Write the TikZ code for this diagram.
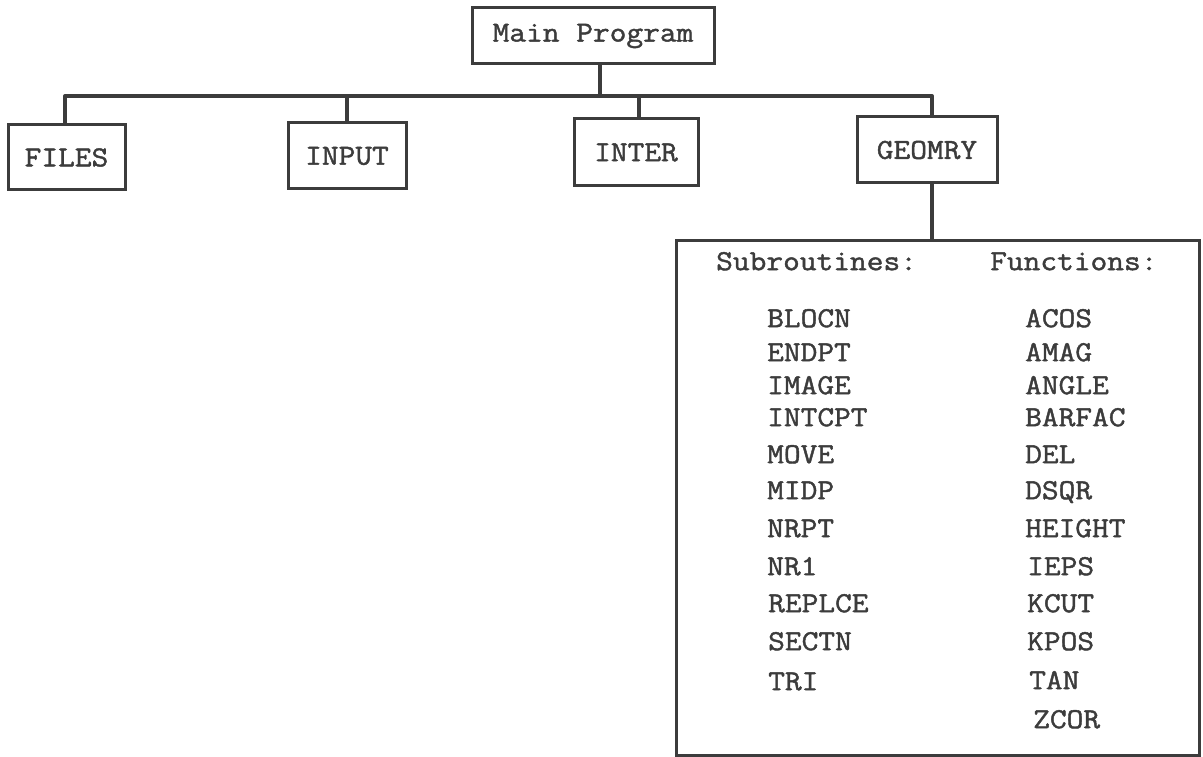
\documentclass[tikz,border=0pt]{standalone}
\usepackage{fontspec}
\setmonofont[FakeBold=1.5, FakeStretch=1.12]{Latin Modern Mono}
\definecolor{ink}{HTML}{3C3C3C}
\tikzset{
  unitbox/.style={draw=ink, line width=3pt, inner sep=0pt, text=ink,
    font=\ttfamily\fontsize{29}{34}\selectfont},
  conn/.style={draw=ink, line width=4pt, line join=round},
  item/.style={anchor=mid west, inner sep=0pt, text=ink,
    font=\ttfamily\fontsize{29}{34}\selectfont},
}
\begin{document}
\begin{tikzpicture}[x=1pt, y=-1pt]
\useasboundingbox (0,0) rectangle (1203,757);

% program units
\node[unitbox, minimum width=242pt, minimum height=56pt] (main)   at (593,36)    {Main Program};
\node[unitbox, minimum width=117pt, minimum height=65pt] (files)  at (66.5,157.5) {FILES};
\node[unitbox, minimum width=118pt, minimum height=66pt] (input)  at (347,156)   {INPUT};
\node[unitbox, minimum width=124pt, minimum height=67pt] (inter)  at (636,152.5) {INTER};
\node[unitbox, minimum width=140pt, minimum height=66pt] (geomry) at (927,150)   {GEOMRY};

% library of GEOMRY routines
\node[unitbox, minimum width=523pt, minimum height=515pt] (lib) at (937.5,497.5) {};

% calling tree
\coordinate (bus) at (600,96);
\draw[conn] ([xshift=-1.5pt]files.north) |- (bus) -| ([xshift=5pt]geomry.north);
\draw[conn] ([xshift=7pt]main.south) -- ([xshift=7pt]main.south |- bus);
\draw[conn] (input.north) -- (input.north |- bus);
\draw[conn] ([xshift=3pt]inter.north) -- ([xshift=3pt]inter.north |- bus);
\draw[conn] ([xshift=5pt]geomry.south) -- ([xshift=5pt]geomry.south |- lib.north);

% column headings
\node[item] (subhd) at (716,268) {Subroutines:};
\node[item] (funhd) at (990,268) {Functions:};

% subroutines
\node[item] (s1)  at (767,325) {BLOCN};
\node[item] (s2)  at (767,359) {ENDPT};
\node[item] (s3)  at (767,392) {IMAGE};
\node[item] (s4)  at (767,424) {INTCPT};
\node[item] (s5)  at (767,461) {MOVE};
\node[item] (s6)  at (767,497) {MIDP};
\node[item] (s7)  at (767,535) {NRPT};
\node[item] (s8)  at (767,573) {NR1};
\node[item] (s9)  at (768,610) {REPLCE};
\node[item] (s10) at (768,648) {SECTN};
\node[item] (s11) at (768,688) {TRI};

% functions
\node[item] (f1)  at (1025,325) {ACOS};
\node[item] (f2)  at (1025,359) {AMAG};
\node[item] (f3)  at (1025,392) {ANGLE};
\node[item] (f4)  at (1025,424) {BARFAC};
\node[item] (f5)  at (1025,461) {DEL};
\node[item] (f6)  at (1025,497) {DSQR};
\node[item] (f7)  at (1025,535) {HEIGHT};
\node[item] (f8)  at (1027,573) {IEPS};
\node[item] (f9)  at (1027,610) {KCUT};
\node[item] (f10) at (1027,648) {KPOS};
\node[item] (f11) at (1029,687) {TAN};
\node[item] (f12) at (1033,726) {ZCOR};
\end{tikzpicture}
\end{document}
